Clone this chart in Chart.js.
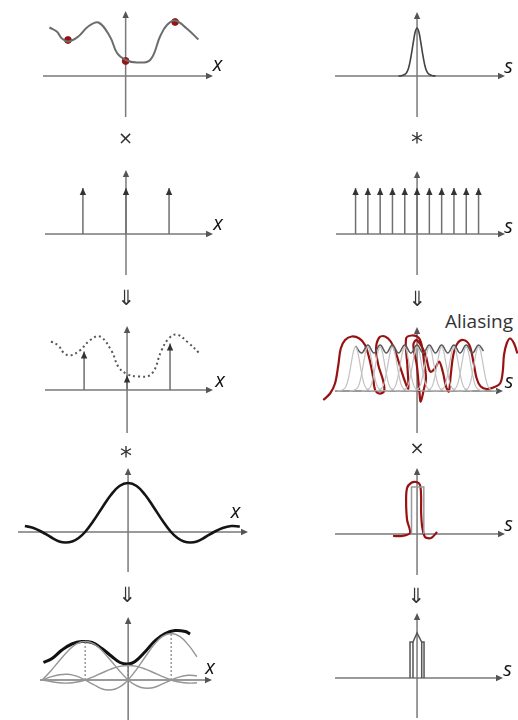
<!DOCTYPE html>
<html>
<head>
<meta charset="utf-8">
<script src="https://cdn.jsdelivr.net/npm/chart.js@4.4.1/dist/chart.umd.min.js"></script>
<style>
html, body { margin: 0; padding: 0; background: #fff; }
#page { position: relative; width: 518px; height: 720px; overflow: hidden; }
#page canvas { position: absolute; }
#aliasing { position: absolute; left: 445px; top: 312px; font-family: "Open Sans", sans-serif; font-size: 19px; color: #333; line-height: 1; }
</style>
</head>
<body>
<div id="page">
  <div id="aliasing">Aliasing</div>
</div>
<script>
// ---------- data (x: sample spacing units, y: amplitude) ----------
// original signal (top left, also dotted in row 3)
const signalX = [-1.77, -1.60, -1.48, -1.33, -1.10, -0.87, -0.63, -0.36, -0.20, 0, 0.26, 0.57, 0.80, 0.96, 1.15, 1.42, 1.69];
const signalY = [0.97, 0.89, 0.75, 0.69, 0.79, 0.99, 1.07, 0.78, 0.46, 0.32, 0.27, 0.32, 0.79, 1.02, 1.11, 0.95, 0.73];
// red marks on the signal
const redDotX = [-1.34, 0, 1.15];
const redDotY = [0.72, 0.30, 1.08];

// sampling positions and sampled values
const sampleX = [-1, 0, 1];
const sampleY = [0.77, 0.29, 0.93];
const combHeight = 0.92;

// spectrum of the signal (top right)
const gaussX = [-1.5, -1.2, -0.9, -0.7, -0.5, -0.3, -0.15, 0, 0.15, 0.3, 0.5, 0.7, 0.9, 1.2, 1.5];
const gaussY = [0, 0.01, 0.05, 0.15, 0.38, 0.68, 0.88, 0.96, 0.88, 0.68, 0.38, 0.15, 0.05, 0.01, 0];

// frequency comb
const combS = [-5, -4, -3, -2, -1, 0, 1, 2, 3, 4, 5];

// aliased spectrum: copies and their sum
const aliasScale = 0.92;
const sumX = [-5, -4.5, -4, -3.5, -3, -2.5, -2, -1.5, -1, -0.5, 0, 0.5, 1, 1.5, 2, 2.5, 3, 3.5, 4, 4.5, 5, 5.4];
const sumY = [0.9, 0.76, 0.92, 0.76, 0.92, 0.76, 0.92, 0.76, 0.92, 0.76, 0.92, 0.76, 0.92, 0.76, 0.92, 0.76, 0.92, 0.76, 0.92, 0.76, 0.92, 0.8];
// red hand drawn line over the aliasing
const scribbleX = [-7.62, -7.07, -6.67, -6.40, -6.20, -5.85, -5.31, -4.69, -4.23, -3.88, -3.60, -3.41, -3.07, -2.68, -2.74, -3.15, -3.33, -3.07, -2.60, -2.14, -1.71, -1.33, -0.98, -0.71, -0.79, -0.89, -0.43, 0.11, 0.38, 0.57, 0.73, 0.57, 0.30, 0.19, -0.02, -0.30, -0.02, 0.65, 1.06, 1.46, 1.79, 2.09, 2.36, 2.58, 2.74, 2.95, 3.28, 3.76, 4.25, 4.58, 4.85, 5.18, 5.67, 6.20, 6.75, 6.97, 7.07, 7.29, 7.56, 7.89, 8.16];
const scribbleY = [-0.18, -0.05, 0.15, 0.52, 0.85, 1.02, 1.09, 1.05, 0.92, 0.65, 0.32, 0.02, -0.05, -0.01, 0.19, 0.52, 0.85, 1.07, 1.09, 0.99, 0.75, 0.45, 0.19, 0.05, 0.52, 1.05, 1.11, 1.07, 0.92, 0.59, 0.25, 0.05, -0.21, -0.01, 0.52, 0.92, 1.02, 0.75, 0.39, 0.45, 0.59, 0.39, 0.09, -0.01, 0.32, 0.72, 0.95, 1.02, 0.92, 0.59, 0.25, 0.09, 0.04, 0.07, 0.15, 0.39, 0.72, 0.95, 1.05, 0.95, 0.75];

// reconstruction kernel (row 4 left)
const kernelX = [-3, -2.8, -2.6, -2.4, -2.2, -2, -1.8, -1.6, -1.45, -1.3, -1.15, -1, -0.8, -0.6, -0.4, -0.2, 0, 0.2, 0.4, 0.6, 0.8, 1, 1.15, 1.3, 1.45, 1.6, 1.8, 2, 2.2, 2.4, 2.6, 2.8, 3];
const kernelY = [0, 0.065, 0.11, 0.12, 0.08, 0, -0.1, -0.19, -0.21, -0.19, -0.12, 0, 0.23, 0.49, 0.74, 0.92, 0.98, 0.92, 0.74, 0.49, 0.23, 0, -0.12, -0.19, -0.21, -0.19, -0.1, 0, 0.08, 0.12, 0.11, 0.065, 0];

// box filter (row 4 right) and red trace over it
const boxX = [-0.45, -0.45, 0.55, 0.55];
const boxY = [0, 0.94, 0.94, 0];
const boxScribbleX = [-1.95, -1.22, -0.57, -0.81, -0.89, -0.81, -0.49, -0.08, 0.24, 0.33, 0.33, 0.41, 0.65, 1.14, 1.63];
const boxScribbleY = [-0.04, -0.04, 0.02, 0.28, 0.68, 0.92, 1.02, 1.04, 0.98, 0.74, 0.44, 0.16, -0.06, -0.08, 0.04];

// reconstructed signal (row 5 left)
const reconX = [-1.97, -1.77, -1.54, -1.31, -1.08, -0.84, -0.61, -0.38, -0.19, 0, 0.16, 0.40, 0.63, 0.86, 1.09, 1.33, 1.44];
const reconY = [0.35, 0.43, 0.60, 0.72, 0.77, 0.75, 0.63, 0.47, 0.35, 0.32, 0.37, 0.57, 0.79, 0.93, 0.99, 0.97, 0.92];

// filtered spectrum (row 5 right)
const clipX = [-0.57, -0.57, -0.33, 0, 0.38, 0.57, 0.57];
const clipY = [0, 0.72, 0.72, 0.9, 0.72, 0.72, 0];
const clipInnerX = [-0.33, 0.38];
const clipInnerY = [0.72, 0.72];

// operator written under each panel (panel order: row by row, left then right)
const operators = ['×', '*', '⇓', '⇓', '*', '×', '⇓', '⇓', '', ''];

// ---------- helpers ----------
const AXIS = '#7a7a7a';
const RED = '#981212';

function pts(xs, ys) {
    return xs.map((v, i) => ({ x: v, y: ys[i] }));
}

function curve(data, color, width, more) {
    return Object.assign({
        data: data, showLine: true, borderColor: color, borderWidth: width,
        pointRadius: 0, tension: 0.4, fill: false, clip: false
    }, more || {});
}

function sticks(xs, hs, color, more) {
    const data = [];
    xs.forEach((v, i) => { data.push({ x: v, y: 0 }, { x: v, y: hs[i] }, { x: v, y: null }); });
    return Object.assign({
        data: data, showLine: true, borderColor: color, borderWidth: 1.5,
        pointRadius: 0, tension: 0, spanGaps: false, clip: false
    }, more || {});
}

function head(ctx, x, y, dir, color) {
    const L = 7, W = 3.2;
    ctx.fillStyle = color;
    ctx.beginPath();
    if (dir === 'up') {
        ctx.moveTo(x, y); ctx.lineTo(x - W, y + L); ctx.lineTo(x + W, y + L);
    } else {
        ctx.moveTo(x, y); ctx.lineTo(x - L, y - W); ctx.lineTo(x - L, y + W);
    }
    ctx.closePath();
    ctx.fill();
}

// axes with arrows crossing at the origin, the axis name and the operator below
const arrowAxes = {
    id: 'arrowAxes',
    beforeDatasetsDraw(chart, args, opts) {
        const ctx = chart.ctx, a = chart.chartArea;
        const x0 = chart.scales.x.getPixelForValue(0);
        const y0 = chart.scales.y.getPixelForValue(0);
        ctx.save();
        ctx.strokeStyle = AXIS;
        ctx.lineWidth = 1.5;
        ctx.beginPath();
        ctx.moveTo(a.left, y0); ctx.lineTo(a.right - 3, y0);
        ctx.moveTo(x0, a.bottom); ctx.lineTo(x0, a.top + 3);
        ctx.stroke();
        head(ctx, a.right, y0, 'right', '#555');
        head(ctx, x0, a.top, 'up', '#555');
        ctx.font = 'italic 20px "Open Sans", "DejaVu Sans", sans-serif';
        ctx.fillStyle = '#111';
        ctx.textAlign = 'center';
        ctx.textBaseline = 'middle';
        ctx.fillText(opts.label, a.right + opts.dx, y0 + opts.dy);
        if (opts.op) {
            const big = opts.op === '*';
            ctx.font = (big ? '24px' : opts.op === '×' ? '18px' : '21px') + ' "DejaVu Sans", sans-serif';
            ctx.fillStyle = '#333';
            ctx.fillText(opts.op, x0 + (opts.opDx || 0), a.bottom + opts.opDy + (big ? 5 : 0));
        }
        ctx.restore();
    },
    afterDatasetsDraw(chart) {
        const ctx = chart.ctx;
        chart.data.datasets.forEach((ds, i) => {
            if (!ds.arrowTips) return;
            chart.getDatasetMeta(i).data.forEach((el, j) => {
                const raw = ds.data[j];
                if (raw.y) head(ctx, el.x, el.y, 'up', '#333');
            });
        });
    }
};

// ---------- datasets per panel ----------
const aliasCopies = combS.map(c => curve(pts(gaussX.map(u => u + c), gaussY.map(v => v * aliasScale)), '#c2c2c2', 1.2));

const kernelPeak = Math.max(...kernelY);
const interpSincs = sampleX.map((c, i) =>
    curve(pts(kernelX.map(u => u + c), kernelY.map(v => v / kernelPeak * sampleY[i]))
        .filter(p => p.x >= -2.0 && p.x <= 1.62), '#959595', 1.4));

const panels = [
    { box: [43, 11, 213, 117], x: [-1.92, 2.03], y: [-0.82, 1.3], label: 'x', dx: 4.5, dy: -11, opDy: 22,
      datasets: [
          curve(pts(signalX, signalY), '#6c6c6c', 2),
          { data: pts(redDotX, redDotY), showLine: false, pointRadius: 3.4, pointBackgroundColor: RED, pointBorderColor: RED, clip: false }
      ] },
    { box: [335, 12, 505, 117], x: [-6.67, 7.15], y: [-0.82, 1.28], label: 's', dx: 3.5, dy: -9, opDy: 22,
      datasets: [curve(pts(gaussX, gaussY), '#444', 1.6)] },
    { box: [45, 170, 213, 275], x: [-1.88, 2.02], y: [-0.82, 1.28], label: 'x', dx: 5, dy: -9.5, opDy: 25,
      datasets: [sticks(sampleX, sampleX.map(() => combHeight), '#707070', { arrowTips: true })] },
    { box: [336, 171, 505, 275], x: [-6.59, 7.15], y: [-0.82, 1.26], label: 's', dx: 3.5, dy: -7, opDy: 26,
      datasets: [sticks(combS, combS.map(() => combHeight), '#707070', { arrowTips: true })] },
    { box: [45, 326, 213, 433], x: [-1.91, 2.0], y: [-0.86, 1.28], label: 'x', dx: 7, dy: -9, opDy: 20, opDx: -1,
      datasets: [
          curve(pts(signalX, signalY), '#555', 2, { borderDash: [2, 3] }),
          sticks(sampleX, sampleY, '#707070', { arrowTips: true })
      ] },
    { box: [335, 327, 503, 433], x: [-6.67, 6.99], y: [-0.84, 1.28], label: 's', dx: 6, dy: -9, opDy: 16,
      datasets: aliasCopies.concat([
          curve(pts(sumX, sumY), '#5a5a5a', 1.6),
          curve(pts(scribbleX, scribbleY), RED, 2.2, { tension: 0.35 })
      ]) },
    { box: [18, 468, 248, 572], x: [-2.56, 2.79], y: [-0.8, 1.28], label: 'x', dx: -12.5, dy: -20, opDy: 25, opDx: -1,
      datasets: [curve(pts(kernelX, kernelY).filter(p => p.x >= -2.45 && p.x <= 2.65), '#151515', 2.6)] },
    { box: [335, 468, 505, 575], x: [-6.67, 7.15], y: [-0.82, 1.32], label: 's', dx: 3.5, dy: -9, opDy: 23, opDx: -1,
      datasets: [
          curve(pts(boxX, boxY), '#9a9a9a', 1.5, { tension: 0 }),
          curve(pts(boxScribbleX, boxScribbleY), RED, 2.2, { tension: 0.3 })
      ] },
    { box: [40, 617, 212, 720], x: [-2.05, 1.95], y: [-0.8, 1.26], label: 'x', dx: -2, dy: -11.5, opDy: 0,
      datasets: interpSincs.concat([
          sticks(sampleX, sampleY, '#808080', { borderWidth: 1.2, borderDash: [2, 2] }),
          curve(pts(reconX, reconY), '#111', 3)
      ]) },
    { box: [335, 613, 503, 718], x: [-6.67, 6.99], y: [-0.8, 1.3], label: 's', dx: 4.5, dy: -8, opDy: 0,
      datasets: [
          curve(pts(clipX, clipY), '#555', 1.5, { tension: 0 }),
          sticks(clipInnerX, clipInnerY, '#555')
      ] }
];

// ---------- build one small chart per panel ----------
const PAD = 40;
const page = document.getElementById('page');

panels.forEach((p, k) => {
    const [L, T, R, B] = p.box;
    const cv = document.createElement('canvas');
    const w = R - L + 2 * PAD, h = B - T + 2 * PAD;
    cv.width = w; cv.height = h;
    cv.style.left = (L - PAD) + 'px';
    cv.style.top = (T - PAD) + 'px';
    cv.style.width = w + 'px';
    cv.style.height = h + 'px';
    page.appendChild(cv);

    new Chart(cv.getContext('2d'), {
        type: 'scatter',
        data: { datasets: p.datasets },
        options: {
            responsive: false,
            animation: false,
            events: [],
            layout: { padding: PAD },
            plugins: {
                legend: { display: false },
                tooltip: { enabled: false },
                arrowAxes: { label: p.label, dx: p.dx, dy: p.dy, op: operators[k], opDy: p.opDy, opDx: p.opDx }
            },
            scales: {
                x: { type: 'linear', min: p.x[0], max: p.x[1], display: false },
                y: { type: 'linear', min: p.y[0], max: p.y[1], display: false }
            }
        },
        plugins: [arrowAxes]
    });
});
</script>
</body>
</html>
